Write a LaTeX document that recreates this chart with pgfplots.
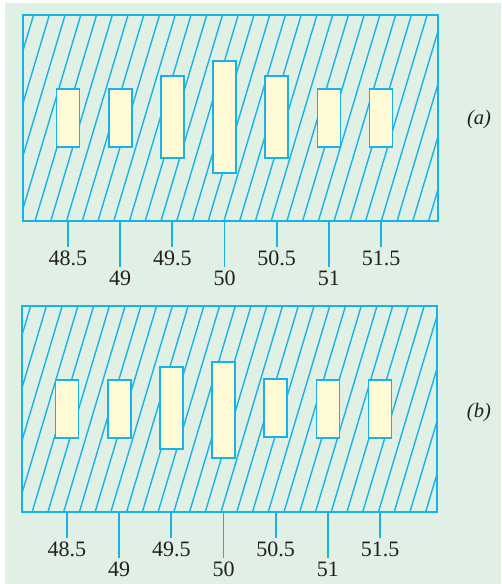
\documentclass[border=0pt]{standalone}
\usepackage{pgfplots}
\pgfplotsset{compat=1.18}
\usepackage{pgfplotstable}
\usepackage{fontspec}
\setmainfont{Liberation Serif}

\definecolor{bgG}{HTML}{E1F0E5}
\definecolor{reedB}{HTML}{19B2E8}
\definecolor{reedY}{HTML}{FEFAD5}
\definecolor{txt}{HTML}{231F20}

% reed frequency (Hz), lower end and length of the vibrating band
\pgfplotstableread{
f    base h
48.5 74   58
49.0 74   58
49.5 63   82
50.0 48   112
50.5 63   82
51.0 74   58
51.5 74   58
}\reedsA
\pgfplotstableread{
f    base h
48.5 74   58
49.0 74   58
49.5 63   82
50.0 54   96
50.5 75   58
51.0 74   58
51.5 74   58
}\reedsB

\pgfplotsset{reedaxis/.style={
  scale only axis, width=415pt, height=206pt,
  xmin=48.069, xmax=52.046, ymin=0, ymax=206,
  clip=false,
  ybar stacked, bar width=23pt,
  axis line style={reedB, line width=2pt},
  ytick=\empty,
  xtick={48.5,49.5,50.5,51.5},
  extra x ticks={49,50,51},
  extra x tick style={major tick length=46pt},
  major tick length=26pt,
  tick align=outside,
  xtick pos=bottom,
  major tick style={reedB, line width=1.8pt},
  /pgf/number format/assume math mode=true,
  x tick label style={font=\fontsize{22}{22}\selectfont, text=txt},
}}

% hatching of the meter face: #1,#2 lower left corner, #3 first top crossing
\newcommand\hatch[3]{%
  \begin{scope}
  \clip (#1pt,#2pt) rectangle ++(415pt,206pt);
  \foreach \k in {-1,...,30}
    \draw[reedB, line width=1.4pt] ({(#3+15.74*\k-61.5)*1pt},#2pt) -- ++(61.5pt,206pt);
  \end{scope}}

\begin{document}
\begin{tikzpicture}
\useasboundingbox (0,0) rectangle (501pt,584pt);
\fill[white] (0,0) rectangle (501pt,584pt);
\fill[bgG] (5pt,0) rectangle (501pt,581pt);
\hatch{23}{363}{33.6}
\hatch{22}{72}{30.7}

\begin{axis}[reedaxis, at={(23pt,363pt)}, anchor=south west]
\addplot[draw=none, fill=none] table[x=f, y=base] {\reedsA};
\addplot[fill=reedY, draw=reedB, line width=1.7pt] table[x=f, y=h] {\reedsA};
\node[font=\itshape\fontsize{20.5}{20.5}\selectfont, text=txt] at (rel axis cs:1.099,0.49) {(a)};
\end{axis}

\begin{axis}[reedaxis, at={(22pt,72pt)}, anchor=south west]
\addplot[draw=none, fill=none] table[x=f, y=base] {\reedsB};
\addplot[fill=reedY, draw=reedB, line width=1.7pt] table[x=f, y=h] {\reedsB};
\node[font=\itshape\fontsize{20.5}{20.5}\selectfont, text=txt] at (rel axis cs:1.101,0.485) {(b)};
\end{axis}
\end{tikzpicture}
\end{document}
